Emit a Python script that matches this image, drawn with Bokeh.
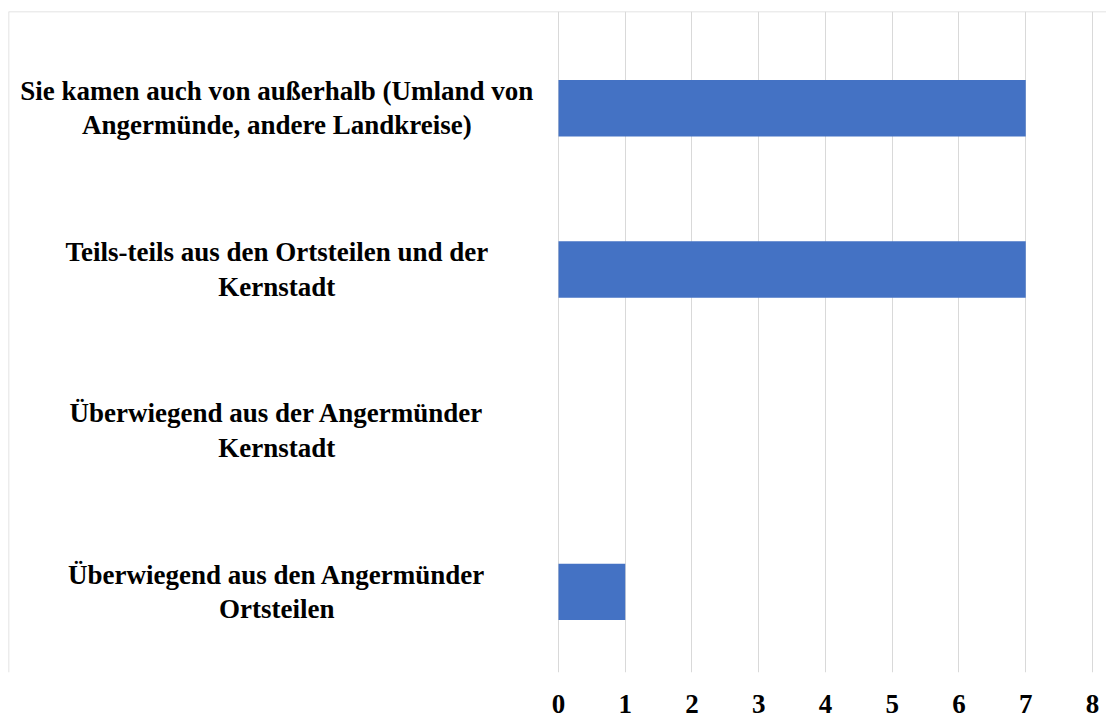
from bokeh.plotting import figure
from bokeh.models import FixedTicker, ColumnDataSource, Range1d, Span
from bokeh.core.properties import value
from bokeh.embed import file_html
from bokeh.resources import INLINE

categories = [
    "Überwiegend aus den Angermünder\nOrtsteilen",
    "Überwiegend aus der Angermünder\nKernstadt",
    "Teils-teils aus den Ortsteilen und der\nKernstadt",
    "Sie kamen auch von außerhalb (Umland von\nAngermünde, andere Landkreise)",
]
counts = [1, 0, 7, 7]
x_ticks = [0, 1, 2, 3, 4, 5, 6, 7, 8]

pos = list(range(len(categories)))
src = ColumnDataSource(dict(cat=categories, val=counts, pos=pos,
                            lx=[-4.22] * len(categories)))

y_top = 3.6
x_left = -8.24

p = figure(width=1106, height=722, output_backend="svg", toolbar_location=None,
           y_range=Range1d(-0.5, y_top),
           x_range=Range1d(x_left, 8.21),
           min_border_top=11, min_border_left=8, min_border_right=0,
           min_border_bottom=50)

p.hbar(y="pos", right="val", left=0, height=0.35, source=src,
       fill_color="#4472C4", line_color=None)

p.text(x="lx", y="pos", text="cat", source=src, text_align="center",
       text_baseline="middle", text_font=value("Liberation Serif"),
       text_font_style="bold", text_font_size="27px", text_color="black",
       text_line_height=1.15)

p.add_layout(Span(location=y_top, dimension="width", line_color="#d9d9d9",
                  line_width=1.5))
p.add_layout(Span(location=x_left, dimension="height", line_color="#d9d9d9",
                  line_width=1.5))

p.yaxis.visible = False
p.xaxis.ticker = FixedTicker(ticks=x_ticks)
p.xaxis.axis_line_color = None
p.xaxis.major_tick_line_color = None
p.xaxis.minor_tick_line_color = None
p.xaxis.major_label_text_font = "Liberation Serif"
p.xaxis.major_label_text_font_style = "bold"
p.xaxis.major_label_text_font_size = "27px"
p.xaxis.major_label_text_color = "black"
p.xaxis.major_label_standoff = 16
p.xgrid.ticker = FixedTicker(ticks=x_ticks)
p.xgrid.grid_line_color = "#d9d9d9"
p.ygrid.grid_line_color = None
p.outline_line_color = None
p.background_fill_color = "white"
p.border_fill_color = "white"

open("out.html", "w").write(file_html(p, INLINE))
